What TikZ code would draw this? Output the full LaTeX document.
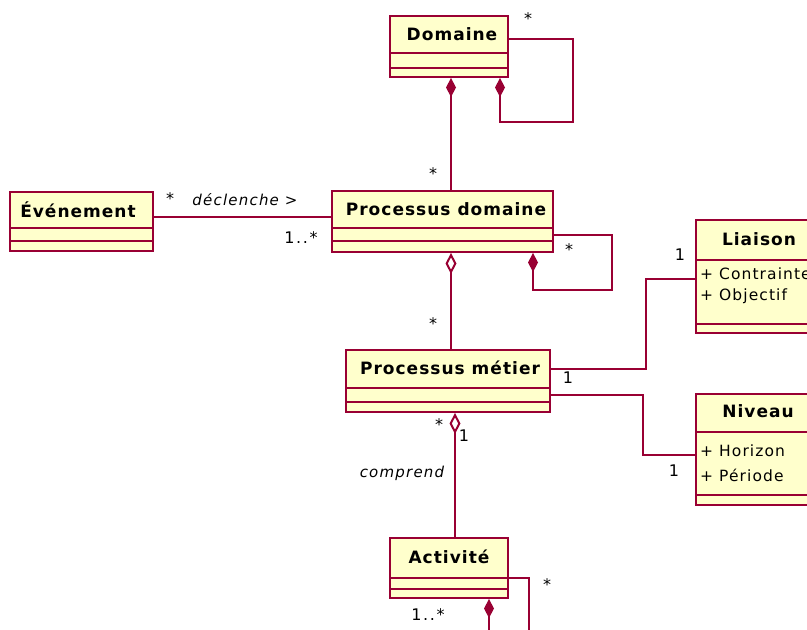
\documentclass[tikz,border=0pt]{standalone}
\usepackage{fontspec}
\setmainfont{DejaVu Sans}
\newfontfamily\clsfont{DejaVu Sans}[LetterSpace=6]
\newfontfamily\attrfont{DejaVu Sans}[LetterSpace=7]
\newfontfamily\rolefont{DejaVu Sans}[LetterSpace=8]
\newfontfamily\multfont{DejaVu Sans}[LetterSpace=10]
\usetikzlibrary{arrows.meta}
\definecolor{umlred}{HTML}{990033}
\definecolor{umlfill}{HTML}{FFFFCC}
\begin{document}
\begin{tikzpicture}[x=1pt,y=-1pt,
  cls/.style={draw=umlred, fill=umlfill, line width=2pt, rectangle, anchor=north west, inner sep=0pt},
  clsname/.style={font=\clsfont\bfseries\fontsize{17}{19}\selectfont, inner sep=0pt},
  attr/.style={font=\attrfont\fontsize{15.5}{17}\selectfont, inner sep=0pt, anchor=west},
  mult/.style={font=\multfont\fontsize{16}{18}\selectfont, inner sep=0pt},
  role/.style={font=\rolefont\itshape\fontsize{15}{17}\selectfont, inner sep=0pt},
  link/.style={draw=umlred, line width=2pt},
  compo/.style={link, -{Diamond[length=19pt,width=10pt,fill=umlred]}},
  aggr/.style={link, -{Diamond[open,length=21pt,width=11pt,fill=white]}}
]
\useasboundingbox (0,0) rectangle (807,630);
\clip (0,0) rectangle (807,630);
\fill[white] (0,0) rectangle (807,630);

% class boxes
\node[cls, minimum width=118pt, minimum height=61pt] (dom) at (389,15) {};
\node[cls, minimum width=221pt, minimum height=61pt] (pd) at (331,190) {};
\node[cls, minimum width=143pt, minimum height=59pt] (evt) at (9,191) {};
\node[cls, minimum width=204pt, minimum height=62pt] (pm) at (345,349) {};
\node[cls, minimum width=118pt, minimum height=60pt] (act) at (389,537) {};
\node[cls, minimum width=140pt, minimum height=113pt] (lia) at (695,219) {};
\node[cls, minimum width=140pt, minimum height=111pt] (niv) at (695,393) {};

% compartment separators
\foreach \n/\a/\b in {dom/38/53, pd/38/51, evt/37/50, pm/39/53, act/41/52, lia/41/105, niv/39/102}{
  \draw[umlred, line width=2pt] ([yshift=-\a pt]\n.north west) -- ([yshift=-\a pt]\n.north east);
  \draw[umlred, line width=2pt] ([yshift=-\b pt]\n.north west) -- ([yshift=-\b pt]\n.north east);
}

% class names
\node[clsname] (domname) at (452,34) {Domaine};
\node[clsname] (pdname) at (446,209) {Processus domaine};
\node[clsname] (evtname) at (78,210) {Événement};
\node[clsname] (pmname) at (450,368) {Processus métier};
\node[clsname] (actname) at (449,557) {Activité};
\node[clsname] (lianame) at (759,239) {Liaison};
\node[clsname] (nivname) at (758,411) {Niveau};

% attributes
\node[attr] (lia1) at (700,274) {+ Contrainte};
\node[attr] (lia2) at (700,296) {+ Objectif};
\node[attr] (niv1) at (700,451) {+ Horizon};
\node[attr] (niv2) at (700,475) {+ Période};

% Domaine: composition of Processus domaine and reflexive composition
\draw[compo] ([xshift=8.5pt]pd.north) -- ([xshift=2pt]dom.south);
\coordinate (domA) at (573,39);
\coordinate (domB) at (573,122);
\coordinate (domC) at (500,122);
\draw[compo] ([yshift=-24pt]dom.north east) -- (domA) -- (domB) -- (domC) -- (domC |- dom.south);

% Evenement -- Processus domaine
\draw[link] ([yshift=4.5pt]evt.east) -- ([yshift=4.5pt]evt.east -| pd.west);

% Processus domaine: aggregation of Processus metier and reflexive composition
\draw[aggr] ([xshift=3pt]pm.north) -- ([xshift=8.5pt]pd.south);
\coordinate (pdA) at (612,235);
\coordinate (pdB) at (612,290);
\coordinate (pdC) at (533,290);
\draw[compo] ([yshift=-45pt]pd.north east) -- (pdA) -- (pdB) -- (pdC) -- (pdC |- pd.south);

% Processus metier -- Activite
\coordinate (pmBot) at ([xshift=7pt]pm.south);
\draw[aggr] (pmBot |- act.north) -- (pmBot);

% Activite reflexive composition (continues below)
\coordinate (actA) at (529,578);
\coordinate (actB) at (529,640);
\coordinate (actC) at (489,640);
\draw[link] ([yshift=-41pt]act.north east) -- (actA) -- (actB);
\draw[compo] (actC) -- (actC |- act.south);

% Processus metier -- Liaison / Niveau
\coordinate (liaA) at (646,369);
\coordinate (liaB) at (646,279);
\draw[link] ([yshift=-20pt]pm.north east) -- (liaA) -- (liaB) -- (liaB -| lia.west);
\coordinate (nivA) at (643,395);
\coordinate (nivB) at (643,455);
\draw[link] ([yshift=-46pt]pm.north east) -- (nivA) -- (nivB) -- (nivB -| niv.west);

% multiplicities and roles
\node[mult] (m1) at (528,19) {*};
\node[mult] (m2) at (433,174) {*};
\node[mult] (m3) at (170,199) {*};
\node[role] (r1) at (245,200) {déclenche >};
\node[mult] (m4) at (301,238) {1..*};
\node[mult] (m5) at (569,250) {*};
\node[mult] (m6) at (680,255) {1};
\node[mult] (m7) at (433,324) {*};
\node[mult] (m8) at (568,378) {1};
\node[mult] (m9) at (439,425) {*};
\node[mult] (m10) at (464,436) {1};
\node[role] (r2) at (402,473) {comprend};
\node[mult] (m11) at (674,471) {1};
\node[mult] (m12) at (547,585) {*};
\node[mult] (m13) at (428,615) {1..*};
\end{tikzpicture}
\end{document}
